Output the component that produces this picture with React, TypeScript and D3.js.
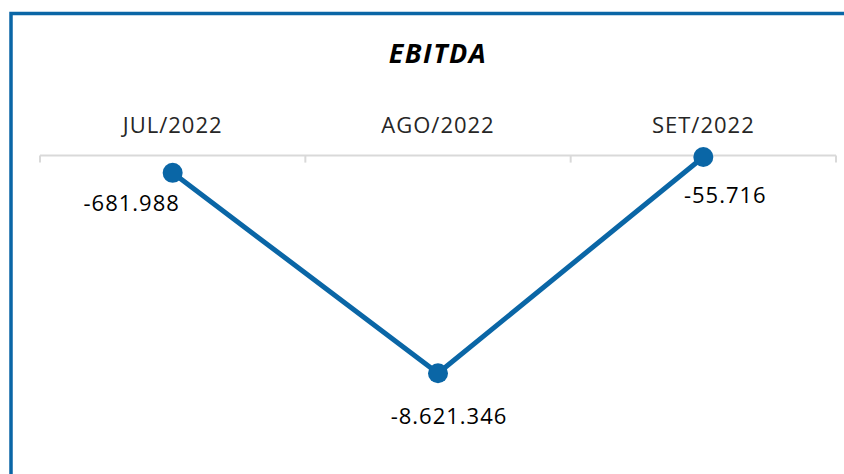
import * as d3 from 'd3';
import React, { useRef, useEffect } from 'react';

const months = ['JUL/2022', 'AGO/2022', 'SET/2022'];
const ebitda = [-681988, -8621346, -55716];
const labelText = ['-681.988', '-8.621.346', '-55.716'];
// manual label placement (dx, dy from the marker), as in the source chart
const labelOffsets = [
    [-41, 38],
    [11, 51],
    [22, 46],
];

const W = 844;
const H = 474;
const FONT = "'Open Sans', 'DejaVu Sans', sans-serif";
const BLUE = '#0A66A6';

const App = () => {
    const svgRef = useRef<SVGSVGElement>(null);

    useEffect(() => {
        const svg = d3.select(svgRef.current);
        svg.selectAll('*').remove();

        // outer frame (only top and left edges are in view)
        svg.append('rect')
            .attr('x', 11)
            .attr('y', 13.5)
            .attr('width', 1000)
            .attr('height', 1000)
            .attr('fill', 'white')
            .attr('stroke', BLUE)
            .attr('stroke-width', 3.5);

        svg.append('text')
            .attr('x', 438)
            .attr('y', 63)
            .attr('text-anchor', 'middle')
            .style('font-family', FONT)
            .style('font-size', '27px')
            .style('font-weight', 'bold')
            .style('font-style', 'italic')
            .style('letter-spacing', '1.5px')
            .attr('fill', '#000')
            .text('EBITDA');

        const x = d3.scaleBand<string>().domain(months).range([40, 836]);
        const y = d3.scaleLinear()
            .domain([0, d3.min(ebitda) as number])
            .range([155.6, 373.3]);

        const axisY = y(0);
        const g = svg.append('g');

        // category axis along zero
        g.append('line')
            .attr('x1', 40).attr('x2', 836)
            .attr('y1', axisY).attr('y2', axisY)
            .attr('stroke', '#d9d9d9')
            .attr('stroke-width', 2);

        const tickXs = months.map((m) => x(m) as number).concat([836]);
        g.selectAll('line.tick')
            .data(tickXs)
            .join('line')
            .attr('class', 'tick')
            .attr('x1', (d) => d).attr('x2', (d) => d)
            .attr('y1', axisY).attr('y2', axisY + 7)
            .attr('stroke', '#d9d9d9')
            .attr('stroke-width', 2);

        g.selectAll('text.cat')
            .data(months)
            .join('text')
            .attr('class', 'cat')
            .attr('x', (d) => (x(d) as number) + x.bandwidth() / 2)
            .attr('y', 133)
            .attr('text-anchor', 'middle')
            .style('font-family', FONT)
            .style('font-size', '22px')
            .style('letter-spacing', '1px')
            .attr('fill', '#262626')
            .text((d) => d);

        const cx = (i: number) => (x(months[i]) as number) + x.bandwidth() / 2;

        const line = d3.line<number>()
            .x((_d, i) => cx(i))
            .y((d) => y(d));

        g.append('path')
            .datum(ebitda)
            .attr('d', line)
            .attr('fill', 'none')
            .attr('stroke', BLUE)
            .attr('stroke-width', 5)
            .attr('stroke-linejoin', 'round');

        g.selectAll('circle.pt')
            .data(ebitda)
            .join('circle')
            .attr('class', 'pt')
            .attr('cx', (_d, i) => cx(i))
            .attr('cy', (d) => y(d))
            .attr('r', 10)
            .attr('fill', BLUE);

        g.selectAll('text.val')
            .data(ebitda)
            .join('text')
            .attr('class', 'val')
            .attr('x', (_d, i) => cx(i) + labelOffsets[i][0])
            .attr('y', (d, i) => y(d) + labelOffsets[i][1])
            .attr('text-anchor', 'middle')
            .style('font-family', FONT)
            .style('font-size', '22px')
            .style('letter-spacing', '1px')
            .attr('fill', '#000')
            .text((_d, i) => labelText[i]);
    }, []);

    return (
        <svg
            ref={svgRef}
            width={W}
            height={H}
            style={{ position: 'absolute', left: 0, top: 0, background: 'white' }}
        />
    );
};

export default App;
